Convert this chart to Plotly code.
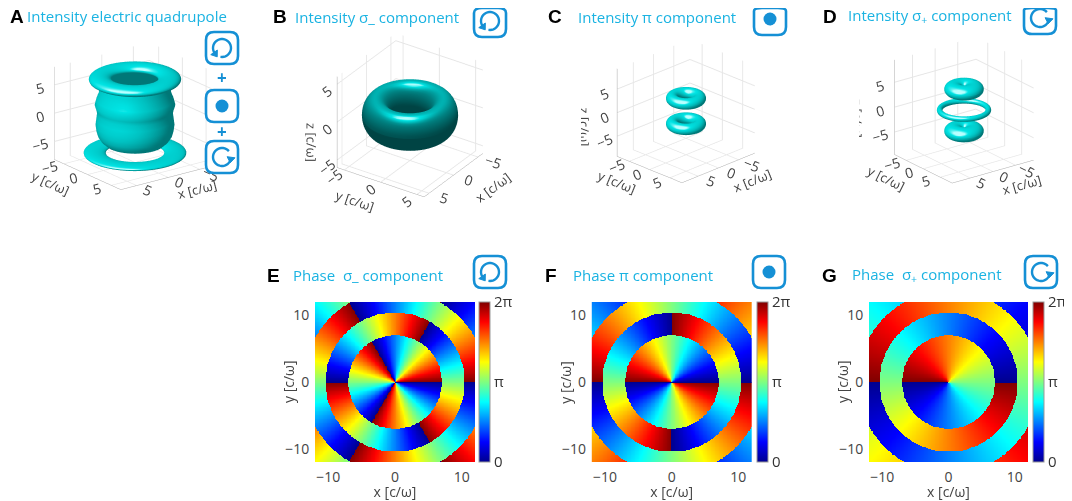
import numpy as np
import plotly.graph_objects as go

# the page body keeps an 8 px margin, so the figure is drawn 8 px smaller
OFF = 8
W, H = 1072 - OFF, 501 - OFF

# ---------------- phase maps (E, F, G) ----------------
grid = np.linspace(-12, 12, 201)
lobe_radii = [6.99, 10.42, 13.70]          # lobe boundaries [c/w]
winding = [-3, 2, 1]                        # azimuthal order, E F G
lobe_phase = [[0, np.pi, 0, np.pi],         # phase jump per lobe
              [0, np.pi, 0, np.pi],
              [np.pi, 0, np.pi, 0]]
phase_ticks = [0, np.pi, 2 * np.pi]
phase_labels = ["0", "π", "2π"]

# ---------------- intensity isosurfaces (A-D) ----------------
# A body: surface of revolution, profile (z, r)
bodyA_z = [-5.6, -5.3, -4.9, -4.2, -3.4, -2.5, -1.5, -0.5, 0.5, 1.2, 2.0, 3.0, 4.0, 5.0, 6.0]
bodyA_r = [0.0, 2.6, 3.7, 4.3, 4.7, 4.9, 5.0, 4.9, 4.8, 4.9, 5.1, 4.9, 4.6, 4.5, 4.4]
# rings: (major radius, radial half width, vertical half height, z centre)
ringsA = [(4.4, 1.45, 0.8, 6.5), (5.1, 1.4, 0.45, -6.5)]
ringsB = [(3.9, 1.6, 2.3, 0.0)]
ringsC = [(2.4, 1.1, 1.1, 2.7), (2.4, 1.1, 1.1, -2.7)]
ringsD = [(1.8, 1.7, 1.35, 4.2), (4.3, 0.5, 0.5, 0.0), (1.8, 1.7, 1.35, -4.2)]

jet = [[0, "rgb(0,0,143)"], [0.125, "rgb(0,0,255)"], [0.375, "rgb(0,255,255)"],
       [0.625, "rgb(255,255,0)"], [0.875, "rgb(255,0,0)"], [1, "rgb(128,0,0)"]]
cyan = [[0, "#004040"], [0.35, "#008080"], [0.65, "#00c2c2"], [0.85, "#00e4e4"], [1, "#b8ffff"]]

TITLE_C = "#1ab3e2"
ICON_C = "#1590d5"
FONT = "Open Sans"


def px(x):
    return min(max((x - OFF) / W, 0.0), 1.0)


def py(y):
    return min(max(1 - (y - OFF) / H, 0.0), 1.0)


def unit(v):
    v = np.asarray(v, float)
    return v / np.linalg.norm(v)


def revolve(r, z, n=72):
    u = np.linspace(0, 2 * np.pi, n)
    r = np.asarray(r, float)
    z = np.asarray(z, float)
    nr, nz = np.gradient(z), -np.gradient(r)
    ln = np.hypot(nr, nz) + 1e-9
    nr, nz = nr / ln, nz / ln
    xyz = (r[:, None] * np.cos(u), r[:, None] * np.sin(u), z[:, None] * np.ones_like(u))
    nrm = (nr[:, None] * np.cos(u), nr[:, None] * np.sin(u), nz[:, None] * np.ones_like(u))
    return xyz, nrm


def ring(R, ar, az, zc, n=40):
    v = np.linspace(0, 2 * np.pi, n)
    return revolve(R + ar * np.cos(v), zc + az * np.sin(v))


def surf(geom, scene, light):
    (x, y, z), nrm = geom
    L, Hv, amb, dif, spe = light
    nl = np.clip(nrm[0] * L[0] + nrm[1] * L[1] + nrm[2] * L[2], 0, None)
    nh = np.clip(nrm[0] * Hv[0] + nrm[1] * Hv[1] + nrm[2] * Hv[2], 0, None)
    val = np.clip(amb + dif * nl + spe * nh ** 25, 0, 1)
    return go.Surface(x=x, y=y, z=z, surfacecolor=val, colorscale=cyan, cmin=0, cmax=1,
                      showscale=False, hoverinfo="skip", scene=scene,
                      lighting=dict(ambient=1, diffuse=0, specular=0, roughness=1, fresnel=0))


# 3D scenes: centre px, range, aspect, azimuth, elevation, eye distance
scene_specs = [
    ("scene", (135, 116), (7.5, 7.0, 8.2), (1.13, 1.05, 0.94), 53, 20, 1.7),
    ("scene2", (410, 115), (6.0, 6.0, 6.0), (1.0, 1.0, 1.0), 34, 30, 2.0),
    ("scene3", (686, 109), (9.0, 8.0, 9.3), (1.0, 0.89, 0.93), 45, 24, 1.5),
    ("scene4", (964, 107), (9.0, 8.5, 9.5), (1.0, 0.94, 1.0), 53, 22, 1.76),
]
shapes3d = [
    [revolve(bodyA_r, bodyA_z)] + [ring(*p) for p in ringsA],
    [ring(*p) for p in ringsB],
    [ring(*p) for p in ringsC],
    [ring(*p) for p in ringsD],
]

fig = go.Figure()
axis_font = dict(family=FONT, size=13, color="#444")


def ax3d(rng, title):
    return dict(range=[-rng, rng], tickvals=[-5, 0, 5], showbackground=False,
                gridcolor="#e6e6e6", showline=True, linecolor="#aaaaaa",
                zeroline=False, showspikes=False, tickfont=axis_font,
                title=dict(text=title, font=dict(family=FONT, size=13, color="#444")))


hw, hh = 105, 105
for idx, (name, (cx, cy), (rx, ry, rz), (ax, ay, az), azim, elev, d) in enumerate(scene_specs):
    a, e = np.radians(azim), np.radians(elev)
    eye = np.array([np.cos(e) * np.cos(a), np.cos(e) * np.sin(a), np.sin(e)])
    right = np.array([-np.sin(a), np.cos(a), 0.0])
    up = np.array([0.0, 0.0, 1.0])
    if name == "scene2":     # dark ring, only its top rim catches the light
        L = unit(0.05 * eye + up - 0.1 * right)
        light = (L, unit(L + eye), 0.02, 0.55, 0.6)
    else:
        L = unit(eye - 0.6 * right + 0.8 * up)
        light = (L, unit(L + eye), 0.3, 0.6, 0.35)
    for g in shapes3d[idx]:
        fig.add_trace(surf(g, name, light))
    fig.update_layout(**{name: dict(
        domain=dict(x=[px(cx - hw), px(cx + hw)], y=[py(cy + hh), py(cy - hh)]),
        xaxis=ax3d(rx, "x [c/ω]"), yaxis=ax3d(ry, "y [c/ω]"), zaxis=ax3d(rz, "z [c/ω]"),
        aspectmode="manual", aspectratio=dict(x=ax, y=ay, z=az),
        camera=dict(eye=dict(x=d * eye[0], y=d * eye[1], z=d * eye[2]),
                    up=dict(x=0, y=0, z=1), projection=dict(type="orthographic")),
        bgcolor="white")})

# ---------------- heatmaps ----------------
X, Y = np.meshgrid(grid, grid)
Rr = np.hypot(X, Y)
PHI = np.arctan2(Y, X)
lobe = np.digitize(Rr, lobe_radii)

heat_px = [(315, 475, 479), (591.7, 751.7, 756.5), (869, 1028, 1033)]
hy0, hy1 = 302, 462
tick_font = dict(family=FONT, size=14, color="#444")
for i, (x0, x1, cbx) in enumerate(heat_px):
    k = "" if i == 0 else str(i + 1)
    phase = np.mod(winding[i] * PHI + np.array(lobe_phase[i])[lobe], 2 * np.pi)
    fig.add_trace(go.Heatmap(
        x=grid, y=grid, z=phase, colorscale=jet, zmin=0, zmax=2 * np.pi,
        xaxis="x" + k, yaxis="y" + k, hoverinfo="skip",
        colorbar=dict(x=px(cbx), xanchor="left", y=py((hy0 + hy1) / 2), yanchor="middle",
                      len=hy1 - hy0, lenmode="pixels", thickness=11, thicknessmode="pixels",
                      tickvals=phase_ticks, ticktext=phase_labels, ticks="",
                      outlinewidth=1, outlinecolor="#999", xpad=0, ypad=0,
                      tickfont=dict(family=FONT, size=15, color="#333"))))
    fig.update_layout(**{
        "xaxis" + k: dict(domain=[px(x0), px(x1)], anchor="y" + k, range=[-12, 12],
                          tickvals=[-10, 0, 10], ticks="outside", ticklen=2, tickcolor="white",
                          showgrid=False, zeroline=False, tickfont=tick_font,
                          title=dict(text="x [c/ω]", font=tick_font, standoff=1)),
        "yaxis" + k: dict(domain=[py(hy1), py(hy0)], anchor="x" + k, range=[-12, 12],
                          tickvals=[-10, 0, 10], ticks="outside", ticklen=2, tickcolor="white",
                          showgrid=False, zeroline=True, zerolinecolor="rgba(150,150,150,0.8)",
                          zerolinewidth=1, layer="above traces", tickfont=tick_font),
    })
    fig.add_annotation(x=px(x0 - 27), y=py((hy0 + hy1) / 2), xref="paper", yref="paper",
                       text="y [c/ω]", textangle=-90, showarrow=False,
                       xanchor="center", yanchor="middle", font=tick_font)

# ---------------- labels ----------------
labels = [
    ("A", 3, 16, 25, "Intensity electric quadrupole"),
    ("B", 271, 17, 293, "Intensity σ_ component"),
    ("C", 546, 17, 576, "Intensity π component"),
    ("D", 821, 16, 846, "Intensity σ<sub>+</sub> component"),
    ("E", 265, 275, 291, "Phase  σ_ component"),
    ("F", 543, 275, 571, "Phase π component"),
    ("G", 820, 275, 850, "Phase  σ<sub>+</sub> component"),
]
for letter, lx, ly, tx, text in labels:
    fig.add_annotation(x=px(lx), y=py(ly), xref="paper", yref="paper", text="<b>%s</b>" % letter,
                       showarrow=False, xanchor="left", yanchor="middle",
                       font=dict(family="Liberation Sans", size=19, color="black"))
    fig.add_annotation(x=px(tx), y=py(ly), xref="paper", yref="paper", text=text,
                       showarrow=False, xanchor="left", yanchor="middle",
                       font=dict(family=FONT, size=15, color=TITLE_C))


# ---------------- polarisation icons ----------------
def P(x, y):
    return "%.5f,%.5f" % (px(x), py(y))


def icon(cx, cy, kind):
    h, rc = 16, 8
    sq = ("M" + P(cx - h + rc, cy - h) + " L" + P(cx + h - rc, cy - h) +
          " Q" + P(cx + h, cy - h) + " " + P(cx + h, cy - h + rc) +
          " L" + P(cx + h, cy + h - rc) + " Q" + P(cx + h, cy + h) + " " + P(cx + h - rc, cy + h) +
          " L" + P(cx - h + rc, cy + h) + " Q" + P(cx - h, cy + h) + " " + P(cx - h, cy + h - rc) +
          " L" + P(cx - h, cy - h + rc) + " Q" + P(cx - h, cy - h) + " " + P(cx - h + rc, cy - h) + " Z")
    out = [dict(type="path", path=sq, xref="paper", yref="paper",
                line=dict(color=ICON_C, width=2.6), fillcolor="white")]
    if kind == "pi":
        r = 6.5
        out.append(dict(type="circle", xref="paper", yref="paper",
                        x0=px(cx - r), x1=px(cx + r), y0=py(cy + r), y1=py(cy - r),
                        fillcolor=ICON_C, line=dict(width=0)))
        return out
    r = 9
    if kind == "plus":      # clockwise, head at the right
        t = np.radians(np.linspace(-8, -320, 30))
        tip = np.radians(-8)
        tang = np.array([np.sin(tip), -np.cos(tip)])
    else:                   # anticlockwise, head at lower left
        t = np.radians(np.linspace(260, 575, 30))
        tip = np.radians(575)
        tang = np.array([-np.sin(tip), np.cos(tip)])
    pts = [(cx + r * np.cos(a), cy - r * np.sin(a)) for a in t]
    arc = "M" + P(*pts[0]) + "".join(" L" + P(*p) for p in pts[1:])
    out.append(dict(type="path", path=arc, xref="paper", yref="paper",
                    line=dict(color=ICON_C, width=2.4)))
    bx, by = cx + r * np.cos(tip), cy - r * np.sin(tip)
    dx, dy = tang[0], -tang[1]
    nx, ny = -dy, dx
    head = ("M" + P(bx + 4.5 * dx, by + 4.5 * dy) + " L" + P(bx - 1 * dx + 4 * nx, by - 1 * dy + 4 * ny) +
            " L" + P(bx - 1 * dx - 4 * nx, by - 1 * dy - 4 * ny) + " Z")
    out.append(dict(type="path", path=head, xref="paper", yref="paper",
                    line=dict(color=ICON_C, width=1), fillcolor=ICON_C))
    return out


icons = [(222, 48, "minus"), (222, 106, "pi"), (222, 157, "plus"),
         (490, 21, "minus"), (770, 19, "pi"), (1040, 18, "plus"),
         (490, 272, "minus"), (769, 272, "pi"), (1041, 272, "plus")]
shapes = []
for cx, cy, kind in icons:
    shapes += icon(cx, cy, kind)
for yy in (78, 132):
    fig.add_annotation(x=px(222), y=py(yy), xref="paper", yref="paper", text="<b>+</b>",
                       showarrow=False, xanchor="center", yanchor="middle",
                       font=dict(family=FONT, size=17, color=ICON_C))

fig.update_layout(width=W, height=H, margin=dict(l=0, r=0, t=0, b=0),
                  paper_bgcolor="white", plot_bgcolor="white", showlegend=False,
                  shapes=shapes, font=dict(family=FONT))
fig.write_html("out.html")
